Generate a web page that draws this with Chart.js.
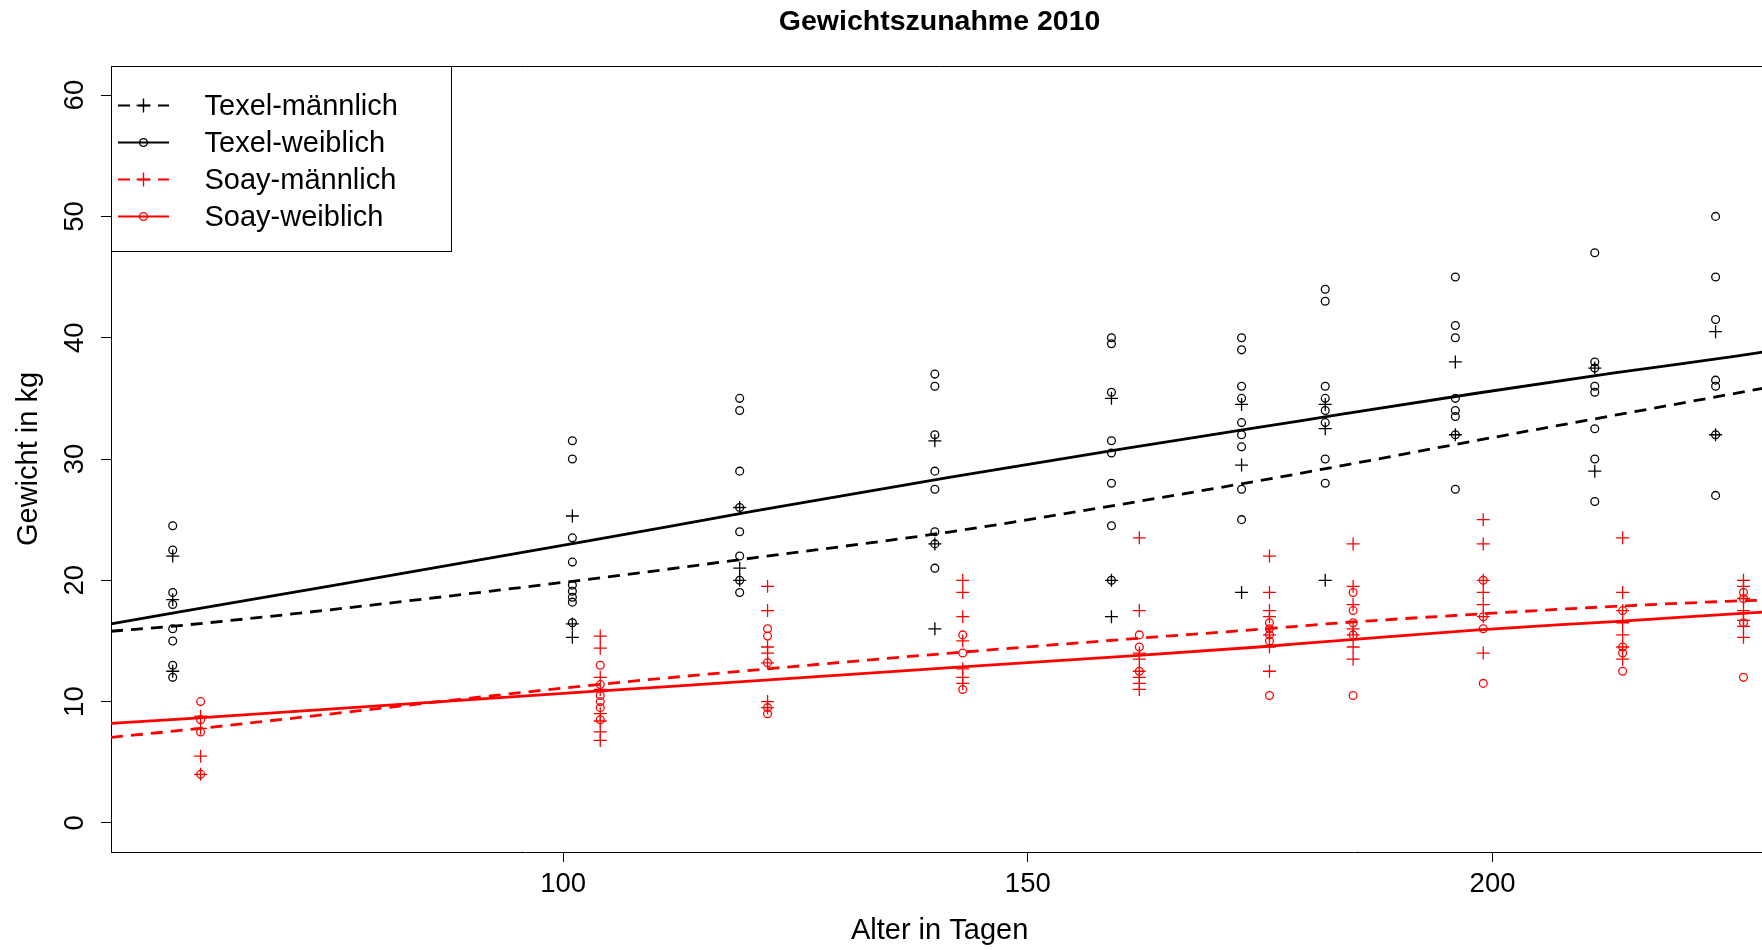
<!DOCTYPE html>
<html>
<head>
<meta charset="utf-8">
<title>Gewichtszunahme 2010</title>
<script src="https://cdn.jsdelivr.net/npm/chart.js@4"></script>
<style>
html, body { margin: 0; padding: 0; background: #fff; overflow: hidden; }
#wrap { width: 1762px; height: 950px; overflow: hidden; }
</style>
</head>
<body>
<div id="wrap"><canvas id="myChart" width="1776" height="950"></canvas></div>
<script>
// Alter in Tagen bei den Wiegungen
var texelDays = [58, 101, 119, 140, 159, 173, 182, 196, 211, 224];
var soayDays = [61, 104, 122, 143, 162, 176, 185, 199, 214, 227];

// Gewichte (kg) je Wiegung
var texelMale = [
  [22.0, 18.4, 12.5],
  [25.3, 16.4, 15.3],
  [26.0, 21.0, 20.0],
  [31.5, 23.0, 16.0],
  [35.0, 20.0, 17.0],
  [34.5, 29.5, 19.0],
  [34.5, 32.5, 20.0],
  [38.0, 32.0],
  [37.5, 29.0],
  [40.5, 32.0]
];
var texelFemale = [
  [24.5, 22.5, 19.0, 18.0, 16.0, 15.0, 13.0, 12.0],
  [31.5, 30.0, 23.5, 21.5, 19.6, 19.1, 18.6, 18.2, 16.5],
  [35.0, 34.0, 29.0, 26.0, 24.0, 22.0, 20.0, 19.0],
  [37.0, 36.0, 32.0, 29.0, 27.5, 24.0, 23.0, 21.0],
  [40.0, 39.5, 35.5, 31.5, 30.5, 28.0, 24.5, 20.0],
  [40.0, 39.0, 36.0, 35.0, 33.0, 32.0, 31.0, 27.5, 25.0],
  [44.0, 43.0, 36.0, 35.0, 34.0, 33.0, 30.0, 28.0],
  [45.0, 41.0, 40.0, 35.0, 34.0, 33.5, 32.0, 27.5],
  [47.0, 38.0, 37.5, 36.0, 35.5, 32.5, 30.0, 26.5],
  [50.0, 45.0, 41.5, 36.5, 36.0, 32.0, 27.0]
];
var soayMale = [
  [8.8, 7.8, 5.5, 4.0],
  [15.4, 14.4, 12.0, 11.0, 9.0, 8.4, 7.5, 6.8],
  [19.5, 17.5, 14.5, 14.0, 13.2, 10.0, 9.5],
  [20.0, 19.0, 17.0, 15.0, 12.7, 12.0, 11.5],
  [23.5, 17.5, 14.0, 13.5, 12.5, 12.0, 11.5, 11.0],
  [22.0, 19.0, 17.5, 17.0, 15.5, 14.5, 12.5],
  [23.0, 19.5, 18.0, 16.0, 15.5, 14.5, 13.5],
  [25.0, 23.0, 20.0, 19.0, 18.0, 17.0, 14.0],
  [23.5, 19.0, 17.5, 16.5, 15.5, 14.5, 13.5],
  [20.0, 19.5, 18.5, 17.5, 16.7, 16.2, 15.3]
];
var soayFemale = [
  [10.0, 8.5, 7.5, 4.0],
  [13.0, 11.4, 10.5, 10.0, 9.5, 8.5],
  [16.0, 15.4, 13.2, 9.5, 9.0],
  [15.5, 14.0, 11.0],
  [15.5, 14.5, 12.5],
  [16.5, 16.0, 15.5, 15.0, 10.5],
  [19.0, 17.5, 16.5, 15.5, 10.5],
  [20.0, 17.0, 16.0, 11.5],
  [17.5, 14.5, 14.0, 12.5],
  [19.0, 18.5, 16.5, 12.0]
];

var seriesNames = ['Texel-männlich', 'Texel-weiblich', 'Soay-männlich', 'Soay-weiblich'];

var curveDays = [51.36, 59.2, 102.4, 120.5, 141.7, 160.7, 174.8, 183.8, 198.1, 213.1, 226.4, 230.64];
var texelMaleFit = [15.8, 16.3, 20.05, 21.85, 24.0, 26.35, 28.2, 29.45, 31.5, 33.6, 35.45, 36.05];
var texelFemaleFit = [16.4, 17.45, 23.2, 25.7, 28.5, 30.9, 32.6, 33.7, 35.4, 37.1, 38.5, 39.0];
var soayMaleFit = [7.05, 7.65, 11.3, 12.6, 14.0, 15.15, 15.95, 16.5, 17.2, 17.85, 18.3, 18.4];
var soayFemaleFit = [8.2, 8.57, 10.8, 11.7, 12.8, 13.75, 14.5, 15.05, 15.9, 16.6, 17.25, 17.45];

var xTicks = [100, 150, 200];
var yTicks = [0, 10, 20, 30, 40, 50, 60];
var xRange = [51.36, 229.66];
var yRange = [-2.4, 62.4];

var FONT = '"Liberation Sans", Arial, sans-serif';
var colors = ['#000000', '#000000', '#ff0000', '#ff0000'];
var symbols = ['cross', 'circle', 'cross', 'circle'];
var dashes = [[12, 8], [], [12, 8], []];

function toPoints(days, groups) {
  var pts = [];
  days.forEach(function (d, i) {
    groups[i].forEach(function (w) { pts.push({x: d, y: w}) });
  });
  return pts;
}

var pointSets = [
  toPoints(texelDays, texelMale),
  toPoints(texelDays, texelFemale),
  toPoints(soayDays, soayMale),
  toPoints(soayDays, soayFemale)
];
var fits = [texelMaleFit, texelFemaleFit, soayMaleFit, soayFemaleFit];

var datasets = [];
pointSets.forEach(function (pts, i) {
  datasets.push({
    label: seriesNames[i],
    data: pts,
    showLine: false,
    pointStyle: symbols[i],
    pointRadius: symbols[i] == 'cross' ? 6.5 : 3.9,
    pointBorderWidth: 1.3,
    borderColor: colors[i],
    backgroundColor: 'rgba(0,0,0,0)'
  });
});
fits.forEach(function (fit, i) {
  datasets.push({
    label: seriesNames[i] + ' Kurve',
    data: curveDays.map(function (d, k) { return {x: d, y: fit[k]} }),
    showLine: true,
    cubicInterpolationMode: 'monotone',
    pointRadius: 0,
    borderColor: colors[i],
    borderWidth: 2.8,
    borderDash: dashes[i],
    fill: false
  });
});

// Rahmen oben, Titel und Legende wie bei R
var frame = {
  id: 'frame',
  afterDraw: function (chart) {
    var ctx = chart.ctx, a = chart.chartArea;
    ctx.save();
    ctx.strokeStyle = '#000';
    ctx.lineWidth = 1;
    ctx.beginPath();
    ctx.moveTo(a.left, a.top + 0.5);
    ctx.lineTo(a.right, a.top + 0.5);
    ctx.stroke();

    ctx.fillStyle = '#000';
    ctx.font = 'bold 28.5px ' + FONT;
    ctx.textAlign = 'center';
    ctx.textBaseline = 'middle';
    ctx.fillText('Gewichtszunahme 2010', (a.left + a.right) / 2, 22);

    // legend box
    ctx.fillStyle = '#fff';
    ctx.fillRect(a.left, a.top, 340, 185);
    ctx.strokeStyle = '#000';
    ctx.strokeRect(a.left + 0.5, a.top + 0.5, 340, 185);
    ctx.font = '29px ' + FONT;
    ctx.textAlign = 'left';
    seriesNames.forEach(function (name, i) {
      var y = a.top + 39.5 + i * 37;
      ctx.strokeStyle = colors[i];
      ctx.lineWidth = 2.2;
      ctx.setLineDash(dashes[i]);
      ctx.beginPath();
      ctx.moveTo(a.left + 7, y);
      ctx.lineTo(a.left + 58, y);
      ctx.stroke();
      ctx.setLineDash([]);
      ctx.lineWidth = 1.4;
      var cx = a.left + 32.5;
      ctx.beginPath();
      if (symbols[i] == 'cross') {
        ctx.moveTo(cx - 7, y); ctx.lineTo(cx + 7, y);
        ctx.moveTo(cx, y - 7); ctx.lineTo(cx, y + 7);
      } else {
        ctx.arc(cx, y, 3.9, 0, Math.PI * 2);
      }
      ctx.stroke();
      ctx.fillStyle = '#000';
      ctx.fillText(name, a.left + 93.5, y + 1);
    });
    ctx.restore();
  }
};

var ctx = document.getElementById("myChart");
var myChart = new Chart(ctx, {
  type: 'scatter',
  data: { datasets: datasets },
  plugins: [frame],
  options: {
    animation: false,
    responsive: false,
    devicePixelRatio: 1,
    events: [],
    layout: { padding: { top: 66, right: 1, left: 0, bottom: 0 } },
    plugins: {
      legend: { display: false },
      title: { display: false },
      tooltip: { enabled: false }
    },
    scales: {
      x: {
        type: 'linear',
        min: xRange[0],
        max: xRange[1],
        afterBuildTicks: function (s) { s.ticks = xTicks.map(function (v) { return {value: v} }) },
        afterFit: function (s) { s.height = 98 },
        grid: { display: true, drawOnChartArea: false, drawTicks: true, tickLength: 10, color: '#000', lineWidth: 1 },
        border: { display: true, color: '#000', width: 1 },
        ticks: { color: '#000', font: { family: FONT, size: 27.5 }, padding: 6, maxRotation: 0, autoSkip: false },
        title: { display: true, text: 'Alter in Tagen', color: '#000', font: { family: FONT, size: 29 }, padding: { top: 2, bottom: 2 } }
      },
      y: {
        type: 'linear',
        min: yRange[0],
        max: yRange[1],
        afterBuildTicks: function (s) { s.ticks = yTicks.map(function (v) { return {value: v} }) },
        afterFit: function (s) { s.width = 111 },
        grid: { display: true, drawOnChartArea: false, drawTicks: true, tickLength: 10, color: '#000', lineWidth: 1 },
        border: { display: true, color: '#000', width: 1 },
        ticks: { color: '#000', font: { family: FONT, size: 27.5 }, padding: 10, minRotation: 90, maxRotation: 90, crossAlign: 'center', autoSkip: false },
        title: { display: true, text: 'Gewicht in kg', color: '#000', font: { family: FONT, size: 29 }, padding: { top: 12, bottom: 12 } }
      }
    }
  }
});
</script>
</body>
</html>
